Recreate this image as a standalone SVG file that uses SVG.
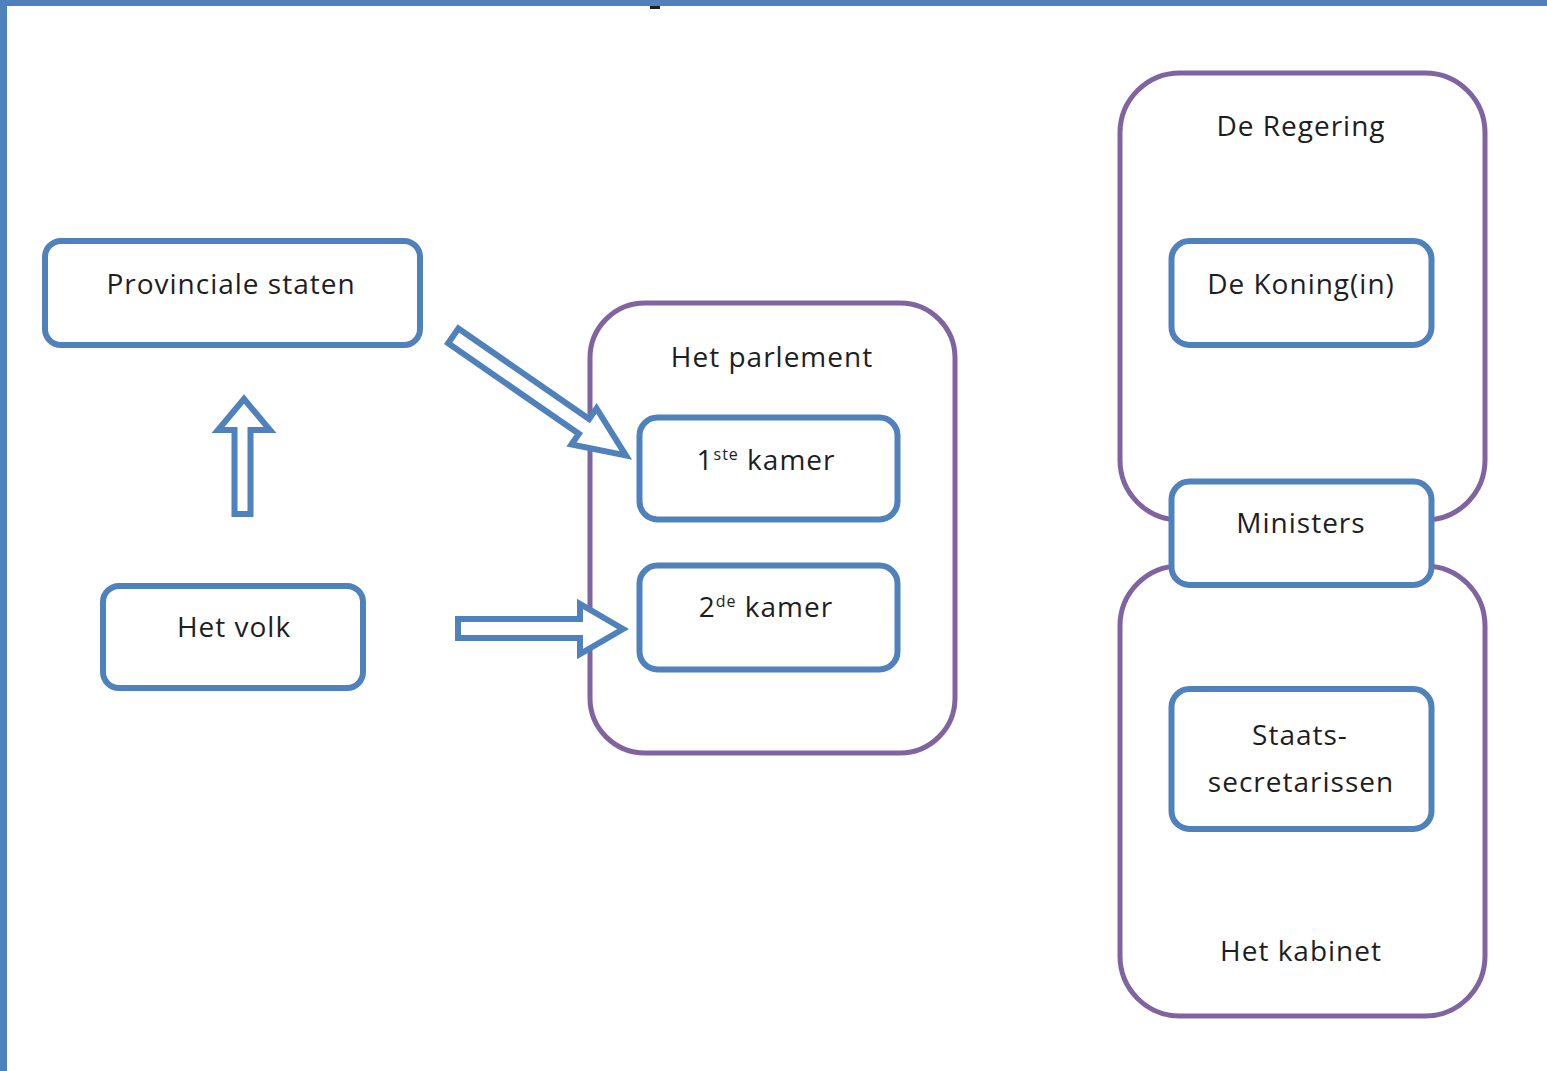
<svg xmlns="http://www.w3.org/2000/svg" width="1547" height="1071" viewBox="0 0 1547 1071">
<style>
.box{fill:#fff;stroke:#4f81bd;stroke-width:6}
.grp{fill:none;stroke:#8064a2;stroke-width:5}
.arr{fill:#fff;stroke:#4f81bd;stroke-width:6;stroke-linejoin:miter}
text{font-family:"Open Sans","Liberation Sans",sans-serif;font-size:28px;fill:#1e1e1e;text-anchor:middle;letter-spacing:1px}
.sup{font-size:16px}
</style>
<rect x="0" y="0" width="1547" height="1071" fill="#fff"/>
<rect x="0" y="0" width="1547" height="6" fill="#4f81bd"/>
<rect x="0" y="0" width="7" height="1071" fill="#4f81bd"/>
<rect x="650" y="6" width="10" height="3" fill="#1e1e1e"/>

<g id="parlement">
<rect class="grp" x="590" y="303" width="365" height="450" rx="55"/>
<text x="772" y="367">Het parlement</text>
</g>
<g id="regering">
<rect class="grp" x="1120" y="73" width="365" height="447" rx="60"/>
<text x="1301" y="136">De Regering</text>
</g>
<g id="kabinet">
<rect class="grp" x="1120" y="566" width="365" height="450" rx="60"/>
<text x="1301" y="961">Het kabinet</text>
</g>

<g id="provinciale">
<rect class="box" x="45" y="241" width="375" height="104" rx="16"/>
<text x="231" y="294">Provinciale staten</text>
</g>
<g id="volk">
<rect class="box" x="103" y="586" width="260" height="102" rx="16"/>
<text x="234" y="637">Het volk</text>
</g>
<g id="kamer1">
<rect class="box" x="639.5" y="417.5" width="258" height="102" rx="18"/>
<text x="766" y="470">1<tspan class="sup" dy="-10">ste</tspan><tspan dy="10"> kamer</tspan></text>
</g>
<g id="kamer2">
<rect class="box" x="639.5" y="565.5" width="258" height="104" rx="18"/>
<text x="766" y="617">2<tspan class="sup" dy="-10">de</tspan><tspan dy="10"> kamer</tspan></text>
</g>
<g id="koning">
<rect class="box" x="1171.5" y="241" width="260" height="104" rx="18"/>
<text x="1301" y="294">De Koning(in)</text>
</g>
<g id="ministers">
<rect class="box" x="1171.5" y="481.5" width="260" height="103.5" rx="18"/>
<text x="1301" y="533">Ministers</text>
</g>
<g id="staats">
<rect class="box" x="1171.5" y="689" width="260" height="140" rx="18"/>
<text x="1300" y="745">Staats-</text>
<text x="1301" y="792">secretarissen</text>
</g>

<g id="connectors">
<polygon class="arr" points="234.5,514 250.5,514 250.5,430 270,430 244,399 218,430 234.5,430"/>
<polygon class="arr" points="458,619 580,619 580,604 623,629 580,654 580,638 458,638"/>
<polygon class="arr" transform="translate(450.8,334.2) rotate(34.7)" points="3,-9 162,-9 162,-22 213,0 162,22 162,9 3,9"/>
</g>
</svg>
